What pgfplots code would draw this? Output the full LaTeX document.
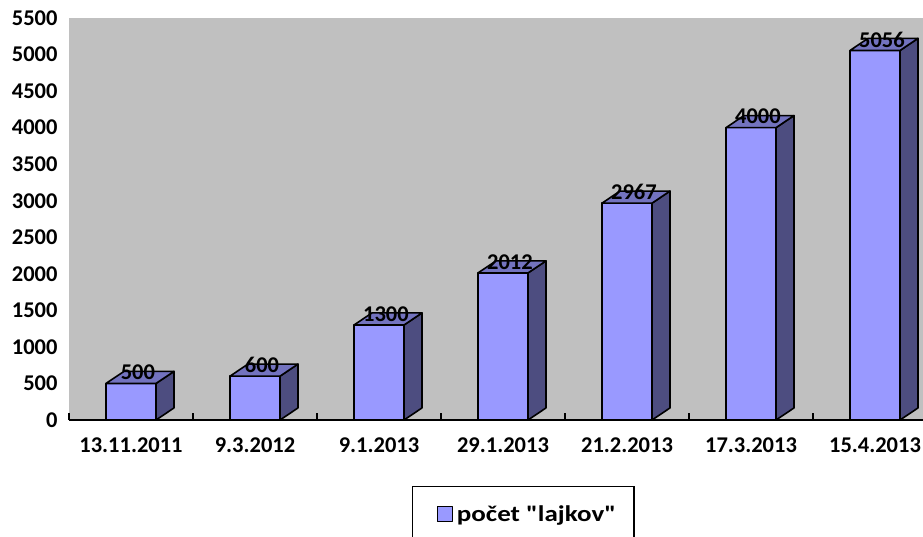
\documentclass[border=0pt]{standalone}
\usepackage{fontspec}
\setmainfont{Carlito}[BoldFont={Carlito Bold}]
\newfontfamily\legfont{Carlito}[BoldFont={Carlito Bold}, FakeStretch=1.2, Ligatures=TeXOff]
\usepackage{pgfplots}
\pgfplotsset{compat=1.18}

\definecolor{plotbg}{RGB}{192,192,192}
\definecolor{barfront}{RGB}{153,153,255}
\definecolor{barside}{RGB}{77,77,128}
\definecolor{bartop}{RGB}{115,115,191}

\newcommand\lbl{\bfseries\fontsize{22.5}{26}\selectfont}

% half width of the front face, depth offsets of the 3D box (axis units)
\def\hw{0.2016}
\def\dx{0.145}
\def\dy{165}

% one 3D column: category index #1, value #2
\newcommand\column[2]{%
  \pgfmathsetmacro\xl{#1-\hw}%
  \pgfmathsetmacro\xr{#1+\hw}%
  \pgfmathsetmacro\xlb{#1-\hw+\dx}%
  \pgfmathsetmacro\xrb{#1+\hw+\dx}%
  \pgfmathsetmacro\yb{#2+\dy}%
  \edef\tmp{%
    \noexpand\addplot[fill=barfront,draw=black,line width=1.6pt,line join=round]
      coordinates {(\xl,0) (\xr,0) (\xr,#2) (\xl,#2)} --cycle;
    \noexpand\addplot[fill=barside,draw=black,line width=1.6pt,line join=round]
      coordinates {(\xr,0) (\xrb,\dy) (\xrb,\yb) (\xr,#2)} --cycle;
    \noexpand\addplot[fill=bartop,draw=black,line width=1.6pt,line join=round]
      coordinates {(\xl,#2) (\xr,#2) (\xrb,\yb) (\xlb,\yb)} --cycle;
  }\tmp
}

\begin{document}
\begin{tikzpicture}[font=\lbl]
\begin{axis}[
  at={(0,0)}, anchor=south west,
  scale only axis,
  width=854pt, height=402pt,
  xmin=-0.5, xmax=6.387,
  ymin=0, ymax=5500,
  axis background/.style={fill=plotbg},
  axis x line*=bottom, axis y line*=left,
  y axis line style={draw=none},
  x axis line style={line width=1.5pt},
  ytick={0,500,...,5500},
  ytick style={draw=none},
  xtick={0,...,6},
  xticklabels={13.11.2011,9.3.2012,9.1.2013,29.1.2013,21.2.2013,17.3.2013,15.4.2013},
  major x tick style={draw=none},
  minor xtick={-0.5,0.5,...,5.5},
  minor tick length=7pt,
  minor x tick style={line width=1.5pt,black},
  tick label style={font=\lbl},
  /pgf/number format/assume math mode=true,
  /pgf/number format/1000 sep={},
  yticklabel style={xshift=-8pt},
  xticklabel style={yshift=-14pt},
  legend style={at={(0.4016,-0.164)}, anchor=north west, draw=black,
    line width=1.2pt, inner xsep=16pt, inner ysep=17pt,
    font=\legfont\bfseries\fontsize{22.5}{26}\selectfont},
  legend image code/.code={\path (0pt,0pt);
    \draw[fill=barfront,draw=black,line width=1.2pt]
    (8pt,-7.5pt) rectangle (23pt,7.5pt);},
]
\column{0}{500}
\column{1}{600}
\column{2}{1300}
\column{3}{2012}
\column{4}{2967}
\column{5}{4000}
\column{6}{5056}

% value labels on the top faces
\addplot[draw=none, mark=none, nodes near coords, point meta=explicit,
  nodes near coords align=center,
  every node near coord/.style={anchor=center, font=\lbl},
  forget plot]
  table[x expr=\thisrow{i}+0.056, y expr=\thisrow{v}+150, meta=v] {
i v
0 500
1 600
2 1300
3 2012
4 2967
5 4000
6 5056
};

\addlegendimage{area legend}
\addlegendentry{\hspace{2pt}počet "lajkov"}
\end{axis}
\pgfresetboundingbox
\path (-69pt,-116pt) rectangle (854pt,420pt);
\end{tikzpicture}
\end{document}
